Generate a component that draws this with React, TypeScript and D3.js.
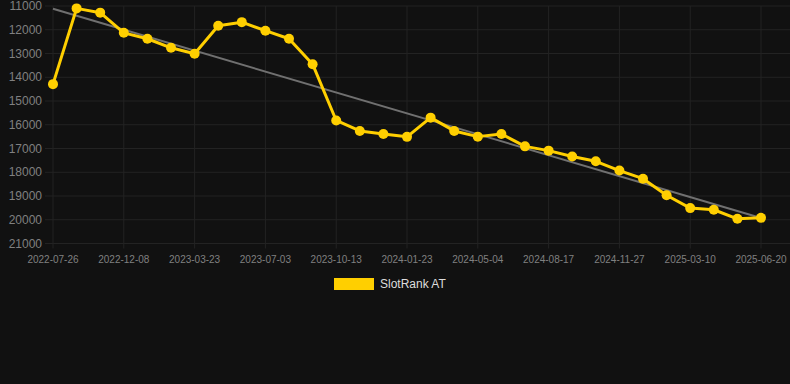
import React from "react";
import * as d3 from "d3";

const tickLabels = [
  "2022-07-26", "2022-12-08", "2023-03-23", "2023-07-03", "2023-10-13",
  "2024-01-23", "2024-05-04", "2024-08-17", "2024-11-27", "2025-03-10", "2025-06-20",
];
const tickStep = 3;
const seriesName = "SlotRank AT";
const rankValues = [
  14290, 11100, 11280, 12130, 12380, 12760, 13010, 11830, 11680, 12040, 12380,
  13450, 15820, 16260, 16390, 16510, 15700, 16260, 16500, 16390, 16910, 17090,
  17340, 17540, 17930, 18270, 18970, 19510, 19580, 19960, 19920,
];
const yTicks = [11000, 12000, 13000, 14000, 15000, 16000, 17000, 18000, 19000, 20000, 21000];

const W = 790, H = 384;
const left = 53, right = 761, top = 6, bottom = 243.5;
const YELLOW = "#ffcf00";
const FONT = "'Liberation Sans', Arial, Helvetica, sans-serif";

export default function App() {
  const x = d3.scaleLinear().domain([0, rankValues.length - 1]).range([left, right]);
  const y = d3.scaleLinear().domain([11000, 21000]).range([top, bottom]);

  const line = d3.line<number>().x((_, i) => x(i)).y((d) => y(d));

  // linear regression trend
  const n = rankValues.length;
  const mx = d3.mean(rankValues.map((_, i) => i))!;
  const my = d3.mean(rankValues)!;
  let sxy = 0, sxx = 0;
  rankValues.forEach((v, i) => { sxy += (i - mx) * (v - my); sxx += (i - mx) * (i - mx); });
  const slope = sxy / sxx;
  const b = my - slope * mx;

  return (
    <div style={{ position: "fixed", left: 0, top: 0, width: W, height: H, background: "#111111" }}>
      <svg width={W} height={H} style={{ display: "block" }}>
        <rect x={0} y={0} width={W} height={H} fill="#111111" />
        {yTicks.map((t) => (
          <g key={t}>
            <line x1={45} x2={W} y1={y(t)} y2={y(t)} stroke="#232323" strokeWidth={1} />
            <text x={42} y={y(t)} dy="0.35em" textAnchor="end" fontSize={12} fill="#808080" fontFamily={FONT}>{t}</text>
          </g>
        ))}
        {tickLabels.map((lab, k) => {
          const xi = x(k * tickStep);
          return (
            <g key={lab}>
              <line x1={xi} x2={xi} y1={top} y2={bottom + 5} stroke="#232323" strokeWidth={1} />
              <text x={xi} y={259} dy="0.35em" textAnchor="middle" fontSize={10} fill="#808080" fontFamily={FONT}>{lab}</text>
            </g>
          );
        })}
        <line x1={x(0)} y1={y(b)} x2={x(n - 1)} y2={y(b + slope * (n - 1))} stroke="#707070" strokeWidth={2} />
        <path d={line(rankValues) || ""} fill="none" stroke={YELLOW} strokeWidth={3} strokeLinejoin="round" />
        {rankValues.map((v, i) => (
          <circle key={i} cx={x(i)} cy={y(v)} r={5} fill={YELLOW} />
        ))}
        <rect x={334} y={278} width={40} height={12} fill={YELLOW} />
        <text x={380} y={284} dy="0.35em" fontSize={12} fill="#dddddd" fontFamily={FONT}>{seriesName}</text>
      </svg>
    </div>
  );
}
